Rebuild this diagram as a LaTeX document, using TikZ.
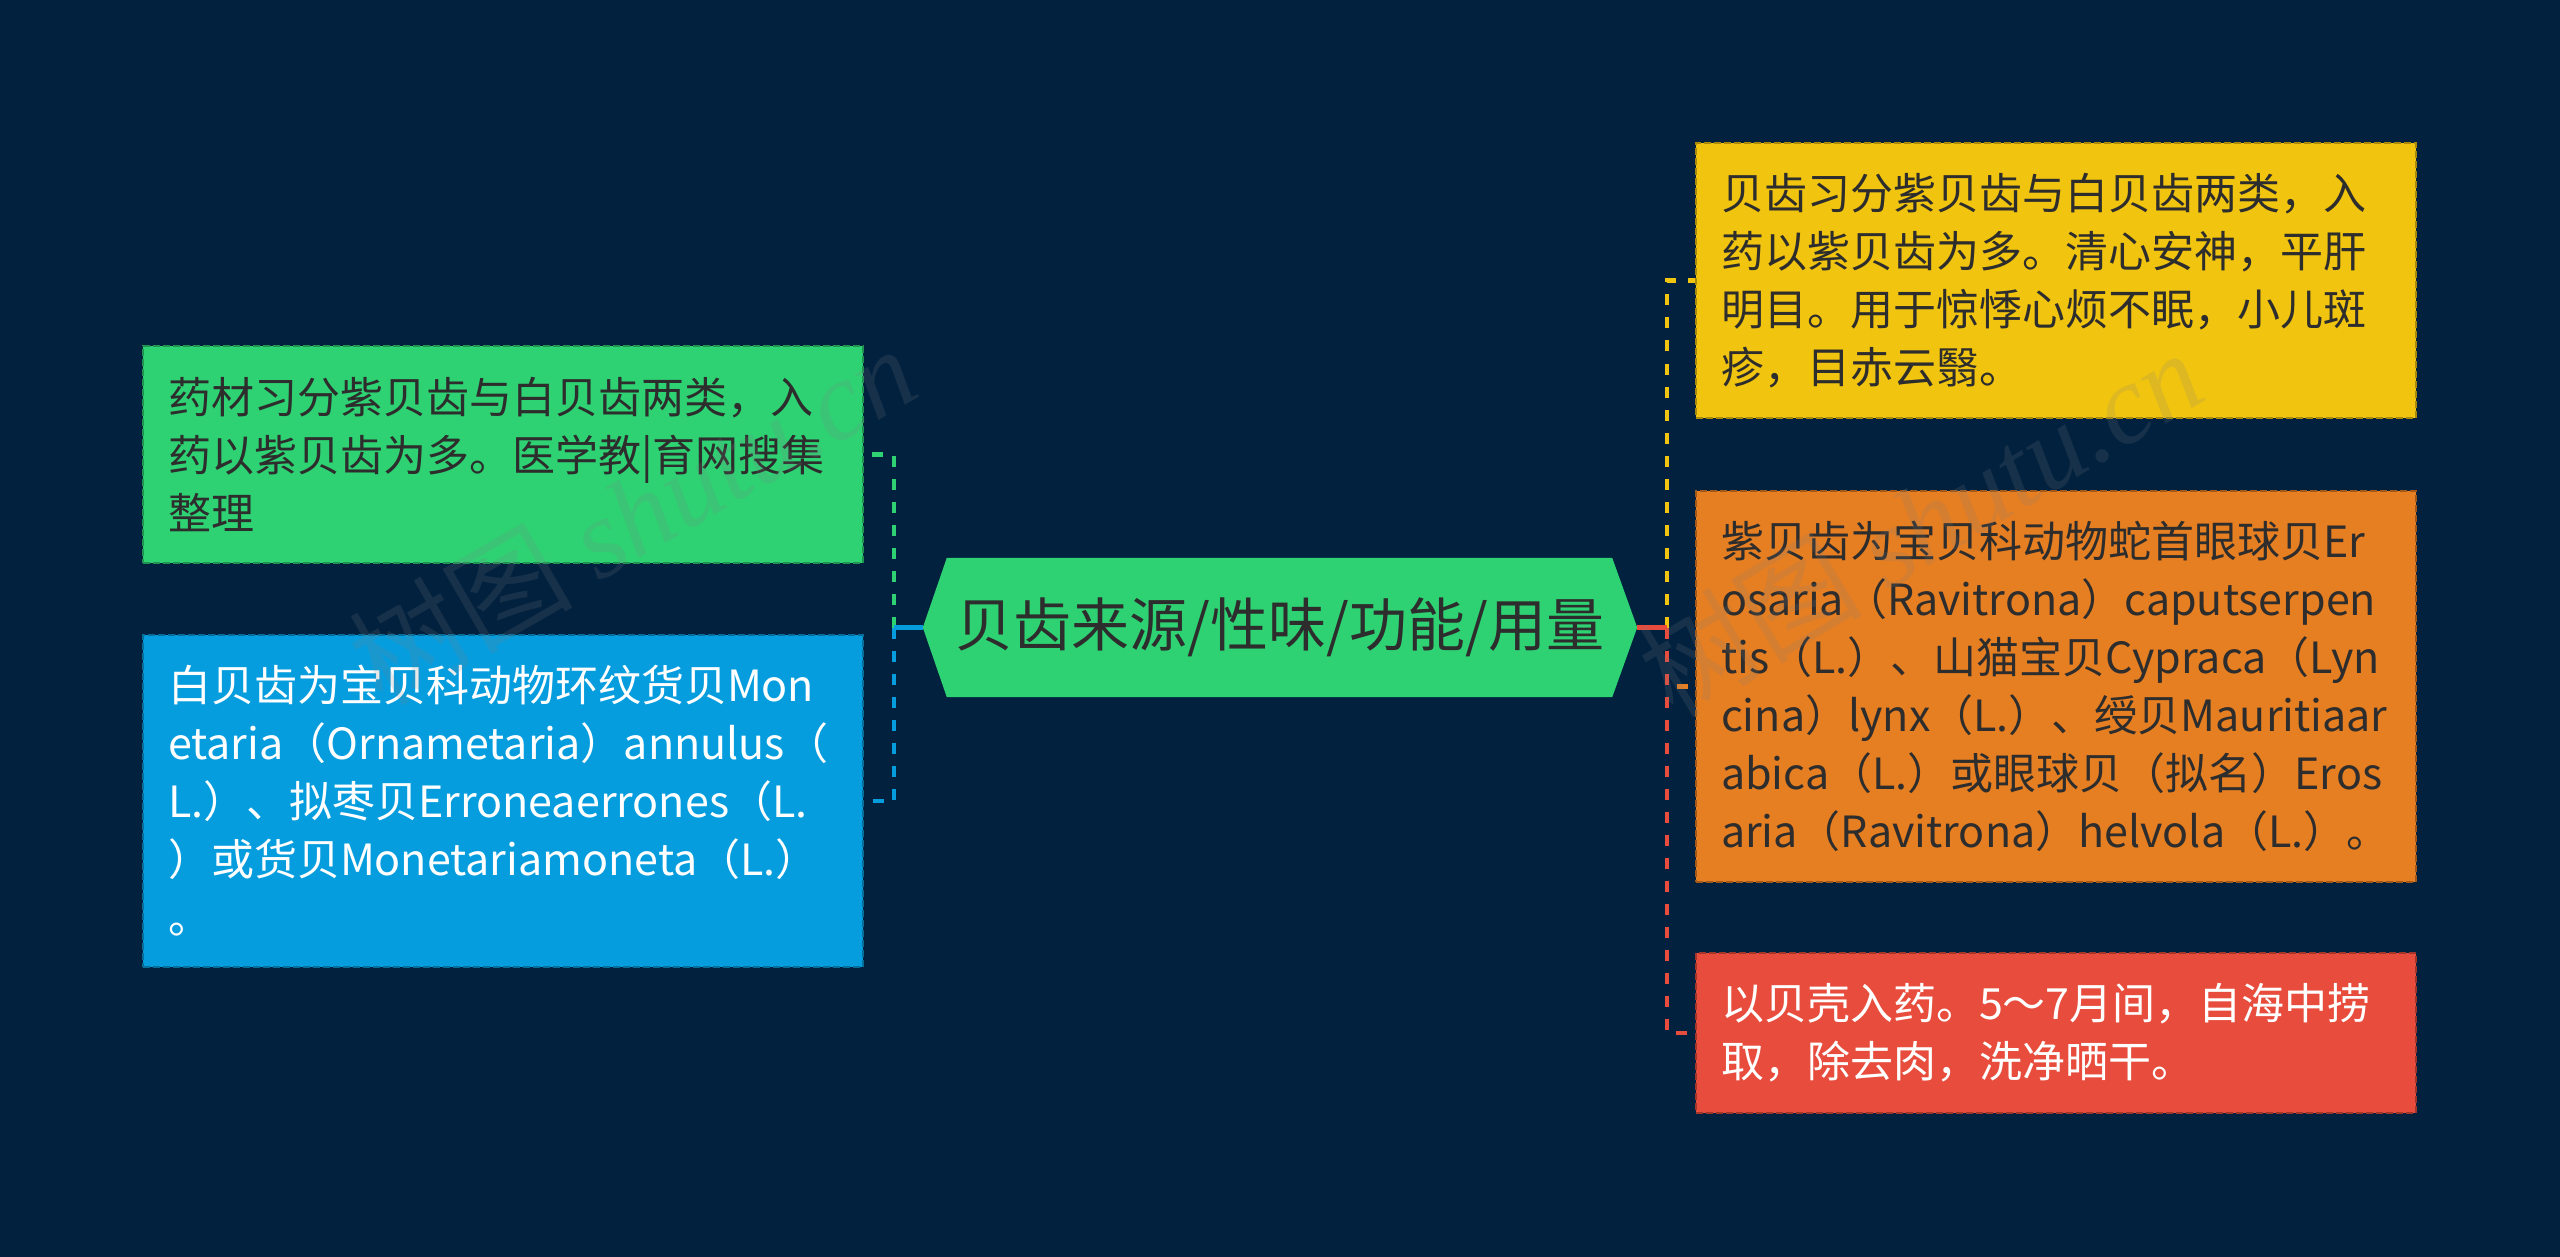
\documentclass[tikz,border=0pt]{standalone}
\usepackage{fontspec}
\setmainfont{Noto Sans CJK SC}
\newfontfamily\wmfont{Liberation Serif}
\usetikzlibrary{calc}
\definecolor{bgc}{RGB}{1,33,62}
\definecolor{cgreen}{RGB}{46,210,115}
\definecolor{cblue}{RGB}{6,157,222}
\definecolor{cyellow}{RGB}{241,196,15}
\definecolor{corange}{RGB}{230,126,34}
\definecolor{cred}{RGB}{231,76,60}
\definecolor{tdark}{RGB}{45,45,45}
\pgfdeclarelayer{back}
\pgfsetlayers{back,main}
\tikzset{
  box/.style={rectangle, draw=#1!70!black, fill=#1, dash pattern=on 7pt off 3pt,
    line width=1.6pt, inner xsep=25pt, inner ysep=0pt, text width=670pt,
    minimum width=720pt, align=left, font=\fontsize{43}{58}\selectfont},
  conn/.style={draw=#1, line width=4.5pt, dash pattern=on 11pt off 12pt},
  stub/.style={draw=#1, line width=4.5pt},
  wm/.style={text=gray, opacity=0.17, font=\fontsize{112}{112}\selectfont, inner sep=0pt}
}
\begin{document}
\begin{tikzpicture}[x=1pt,y=-1pt]
\begin{pgfonlayer}{back}
\fill[bgc] (0,0) rectangle (2560,1257);
\end{pgfonlayer}
\useasboundingbox (0,0) rectangle (2560,1257);

% root
\node[minimum width=714pt, minimum height=139pt, inner sep=0pt, text=tdark,
  font=\fontsize{58}{58}\selectfont] (root) at (1280,627.5) {贝齿来源/性味/功能/用量};
\begin{pgfonlayer}{back}
\fill[cgreen] (root.west) -- ($(root.north west)+(24,0)$) -- ($(root.north east)+(-25,0)$)
  -- (root.east) -- ($(root.south east)+(-25,0)$) -- ($(root.south west)+(24,0)$) -- cycle;
\end{pgfonlayer}

% left boxes
\node[box=cgreen, text=tdark, minimum height=217pt] (g) at (503,454.5)
  {药材习分紫贝齿与白贝齿两类，入\\药以紫贝齿为多。医学教|育网搜集\\整理};
\node[box=cblue, text=white, minimum height=332pt] (b) at (503,801)
  {白贝齿为宝贝科动物环纹货贝Mon\\etaria（Ornametaria）annulus（\\L.）、拟枣贝Erroneaerrones（L.\\）或货贝Monetariamoneta（L.）\\。};

% right boxes
\node[box=cyellow, text=tdark, minimum height=275pt] (y) at (2056,280.5)
  {贝齿习分紫贝齿与白贝齿两类，入\\药以紫贝齿为多。清心安神，平肝\\明目。用于惊悸心烦不眠，小儿斑\\疹，目赤云翳。};
\node[box=corange, text=tdark, minimum height=391pt] (o) at (2056,686.5)
  {紫贝齿为宝贝科动物蛇首眼球贝Er\\osaria（Ravitrona）caputserpen\\tis（L.）、山猫宝贝Cypraca（Lyn\\cina）lynx（L.）、绶贝Mauritiaar\\abica（L.）或眼球贝（拟名）Eros\\aria（Ravitrona）helvola（L.）。};
\node[box=cred, text=white, minimum height=160pt] (r) at (2056,1033)
  {以贝壳入药。5～7月间，自海中捞\\取，除去肉，洗净晒干。};

% connectors
\coordinate (jl) at (894,627.5);
\coordinate (jr) at (1667,627.5);
\draw[conn=cgreen] (jl) |- (g.east);
\draw[conn=cblue] (jl) |- (b.east);
\draw[stub=cblue] (root.west) -- (jl);
\draw[conn=cyellow] (jr) |- (y.west);
\draw[conn=corange] (jr) |- (o.west);
\draw[conn=cred] (jr) |- (r.west);
\draw[stub=cred] (root.east) -- (jr);

% watermarks
\node[wm, rotate=30] (wm1) at (632,514) {树图 {\wmfont\itshape shutu.cn}};
\node[wm, rotate=31] (wm2) at (1920,522) {树图 {\wmfont\itshape shutu.cn}};
\end{tikzpicture}
\end{document}
